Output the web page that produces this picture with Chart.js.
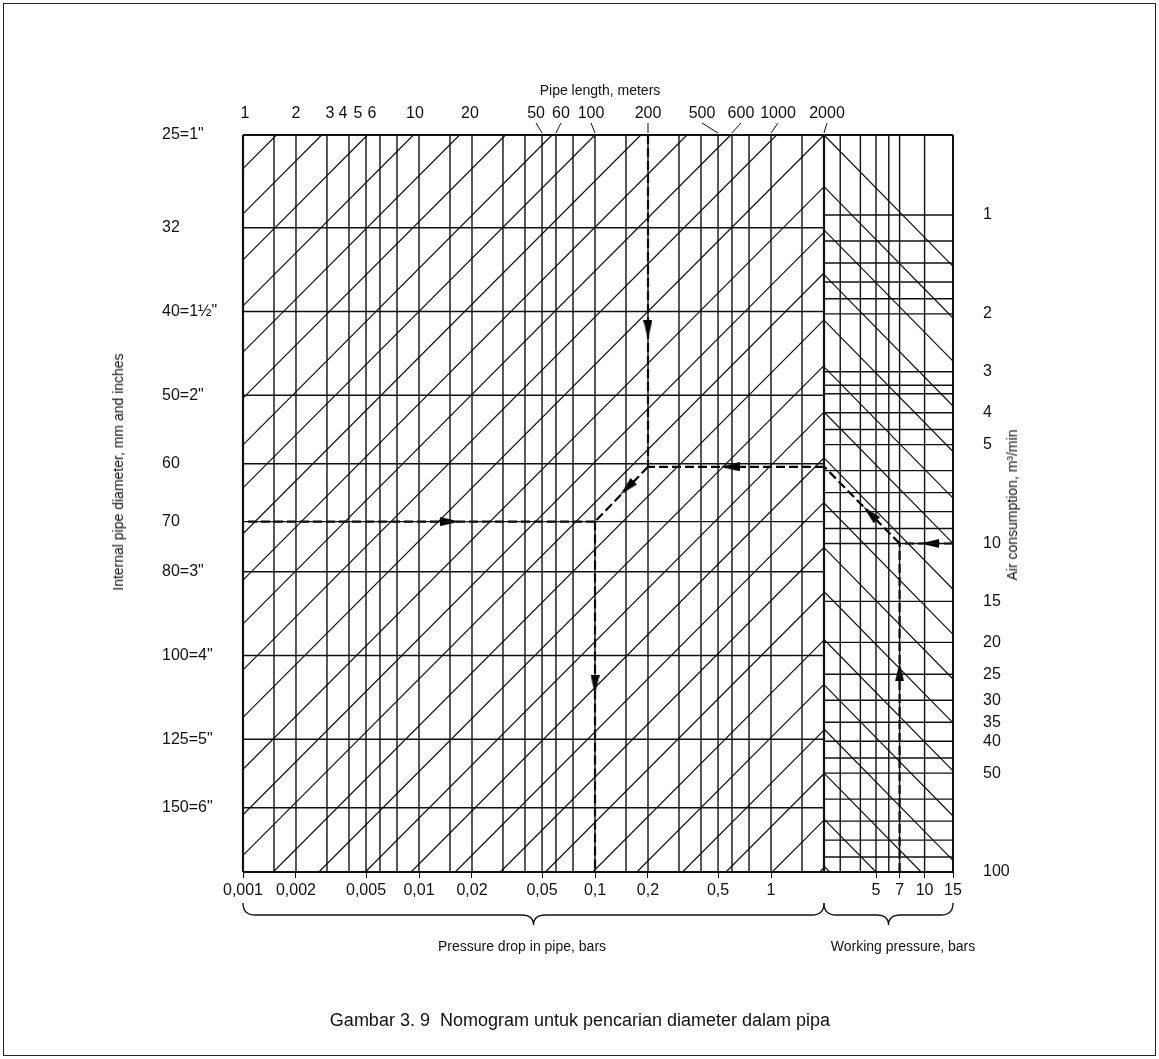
<!DOCTYPE html>
<html>
<head>
<meta charset="utf-8">
<title>Nomogram diameter pipa</title>
<script src="https://cdn.jsdelivr.net/npm/chart.js@4.4.1/dist/chart.umd.min.js"></script>
<style>
  html, body { margin: 0; padding: 0; background: #fff; }
  #wrap { position: relative; width: 1159px; height: 1059px; overflow: hidden;
          font-family: "Liberation Sans", Arial, Helvetica, sans-serif; color: #111; }
  #frame { position: absolute; left: 3px; top: 3px; width: 1151px; height: 1051px; border: 1px solid #222; }
  canvas { position: absolute; left: 0; top: 0; }
  .lbl { position: absolute; white-space: nowrap; font-size: 14px; transform: translate(-50%, -50%); }
  .rot { transform: translate(-50%, -50%) rotate(-90deg); }
  #caption { font-size: 18px; }
</style>
</head>
<body>
<div id="wrap">
  <div id="frame"></div>
  <canvas id="nomo" width="1159" height="1059"></canvas>
  <div class="lbl" style="left:600px; top:90px;">Pipe length, meters</div>
  <div class="lbl rot" style="left:118px; top:472px;">Internal pipe diameter, mm and inches</div>
  <div class="lbl rot" style="left:1012px; top:505px;">Air consumption, m³/min</div>
  <div class="lbl" style="left:522px; top:946px;">Pressure drop in pipe, bars</div>
  <div class="lbl" style="left:903px; top:946px;">Working pressure, bars</div>
  <div class="lbl" id="caption" style="left:580px; top:1020px;">Gambar 3. 9&nbsp; Nomogram untuk pencarian diameter dalam pipa</div>
</div>
<script>
// ---- values ----
// pipe length (m), vertical lines of the main panel
const lengthGrid = [1, 1.5, 2, 3, 4, 5, 6, 7.5, 10, 15, 20, 30, 40, 50, 60, 75, 100, 150, 200, 300, 400, 500, 600, 750, 1000, 1500, 2000];
const lengthTicks = [1, 2, 3, 4, 5, 6, 10, 20, 50, 60, 100, 200, 500, 600, 1000, 2000];
// pressure drop (bar) printed under the same lines
const dropTicks = [0.001, 0.002, 0.005, 0.01, 0.02, 0.05, 0.1, 0.2, 0.5, 1];
// internal diameter (mm), horizontal lines
const diameterGrid = [25, 32, 40, 50, 60, 70, 80, 100, 125, 150, 178];
const diameterTicks = [25, 32, 40, 50, 60, 70, 80, 100, 125, 150];
const diameterLabels = ['25=1"', '32', '40=1½"', '50=2"', '60', '70', '80=3"', '100=4"', '125=5"', '150=6"'];
// working pressure (bar), vertical lines of the right panel
const pressureGrid = [2.38, 3, 4, 5, 6, 7, 10, 15];
const pressureTicks = [5, 7, 10, 15];
// air consumption (m3/min), horizontal lines of the right panel
const airGrid = [0.571, 1, 1.2, 1.4, 1.6, 1.8, 2, 3, 3.3, 3.5, 4, 4.5, 5, 6, 7, 8, 9, 10, 15, 20, 25, 30, 35, 40, 45, 50, 60, 70, 80, 90, 100];
const airTicks = [1, 2, 3, 4, 5, 10, 15, 20, 25, 30, 35, 40, 50, 100];
// diagonals: where they cut the top edge (m) / the right edge (mm)
const diagTopLength = [1.55, 2.8, 5.1, 9.3, 17, 31, 57, 100, 182, 333, 590, 1075];
const diagRightDia = [25, 28.7, 32.4, 36.1, 40.9, 46.2, 52.3, 59.1, 66.5, 75, 84.6, 96, 108, 122, 137, 155, 176];
// right panel diagonals start on its left edge (m3/min)
const chevronAir = [0.571, 0.82, 1.11, 1.52, 2.09, 2.9, 3.98, 5.49, 7.53, 10.3, 14, 19.6, 26.9, 36.7, 50, 69, 96];
const DIAG_EXP = 4.9;   // L * d^4.9 = const along a main diagonal
const AIR_EXP = 0.5;    // Q / p^0.5 = const along a right diagonal

// worked example (dashed path)
const exAir = 10, exPressure = 7, exAirEdge = 5.83;
const exLength = 200, exDiaMid = 60.5, exDiameter = 70, exDropLength = 100;
const arrowMainLen = [15, 200, 585, 152, 100];
const arrowMainDia = [70, 42, 60.5, 64, 108];
const arrowMainRot = [90, 180, 270, 225, 180];
const arrowAirP = [4.6, 10.8, 7];
const arrowAirQ = [8.1, 10, 24.6];
const arrowAirRot = [315, 270, 0];

const LOG = Math.log10;
const lMin = lengthGrid[0], lMax = lengthGrid[lengthGrid.length - 1];
const dMin = diameterGrid[0], dMax = diameterGrid[diameterGrid.length - 1];
const pMin = pressureGrid[0], pMax = pressureGrid[pressureGrid.length - 1];
const qMin = airGrid[0], qMax = airGrid[airGrid.length - 1];

const INK = '#111';
const datasets = [];
function addLine(xID, yID, pts, extra) {
  datasets.push(Object.assign({
    xAxisID: xID, yAxisID: yID, showLine: true, clip: false,
    data: pts.map(p => ({ x: p[0], y: p[1] })),
    borderColor: INK, borderWidth: 1.2, pointRadius: 0
  }, extra || {}));
}

// main panel grid
lengthGrid.forEach((L, i) => {
  const edge = i === 0 || i === lengthGrid.length - 1;
  addLine('x', 'y', [[L, dMin], [L, dMax]], { borderWidth: edge ? 2.2 : 1.4 });
});
diameterGrid.forEach((d, i) => {
  const edge = i === 0 || i === diameterGrid.length - 1;
  addLine('x', 'y', [[lMin, d], [lMax, d]], { borderWidth: edge ? 2 : 1.4 });
});
function mainDiag(L0, d0) {
  const c = LOG(L0) + DIAG_EXP * LOG(d0);
  const uMax = LOG(lMax);
  const uTop = c - DIAG_EXP * LOG(dMin);
  const hi = uTop <= uMax ? [10 ** uTop, dMin] : [lMax, 10 ** ((c - uMax) / DIAG_EXP)];
  const vLeft = (c - LOG(lMin)) / DIAG_EXP;
  const lo = vLeft <= LOG(dMax) ? [lMin, 10 ** vLeft] : [10 ** (c - DIAG_EXP * LOG(dMax)), dMax];
  return [lo, hi];
}
diagTopLength.forEach(L => addLine('x', 'y', mainDiag(L, dMin), { borderWidth: 1.2 }));
diagRightDia.forEach(d => addLine('x', 'y', mainDiag(lMax, d), { borderWidth: 1.2 }));

// right panel grid
pressureGrid.forEach((p, i) => {
  const edge = i === pressureGrid.length - 1;
  if (i === 0) return; // shared with the main panel's right edge
  addLine('xp', 'yq', [[p, qMin], [p, qMax]], { borderWidth: edge ? 2 : 1.4 });
});
airGrid.forEach((q, i) => {
  const edge = i === 0 || i === airGrid.length - 1;
  addLine('xp', 'yq', [[pMin, q], [pMax, q]], { borderWidth: edge ? 2 : 1.4 });
});
function airDiag(q0) {
  const c = LOG(q0) - AIR_EXP * LOG(pMin);
  const qEnd = 10 ** (c + AIR_EXP * LOG(pMax));
  const end = qEnd <= qMax ? [pMax, qEnd] : [10 ** ((LOG(qMax) - c) / AIR_EXP), qMax];
  return [[pMin, q0], end];
}
chevronAir.forEach(q => addLine('xp', 'yq', airDiag(q), { borderWidth: 1.2 }));

// dashed worked example
const dash = { borderWidth: 2.2, borderDash: [9, 4], borderColor: '#000' };
addLine('xp', 'yq', [[exPressure, qMax], [exPressure, exAir]], dash);
addLine('xp', 'yq', [[pMax, exAir], [exPressure, exAir]], dash);
addLine('xp', 'yq', [[exPressure, exAir], [pMin, exAirEdge]], dash);
addLine('x', 'y', [[lMax, exDiaMid], [exLength, exDiaMid]], dash);
addLine('x', 'y', [[exLength, dMin], [exLength, exDiaMid]], dash);
addLine('x', 'y', [[exLength, exDiaMid], [exDropLength, exDiameter]], dash);
addLine('x', 'y', [[exDropLength, exDiameter], [lMin, exDiameter]], dash);
addLine('x', 'y', [[exDropLength, exDiameter], [exDropLength, dMax]], dash);

// arrowheads
function arrowHead() {
  const c = document.createElement('canvas');
  c.width = 9; c.height = 19;
  const g = c.getContext('2d');
  g.fillStyle = '#000';
  g.beginPath(); g.moveTo(4.5, 0); g.lineTo(9, 19); g.lineTo(0, 19); g.closePath(); g.fill();
  return c;
}
const head = arrowHead();
datasets.push({
  xAxisID: 'x', yAxisID: 'y', clip: false, pointStyle: head,
  data: arrowMainLen.map((L, i) => ({ x: L, y: arrowMainDia[i] })),
  rotation: arrowMainRot, pointRadius: 8
});
datasets.push({
  xAxisID: 'xp', yAxisID: 'yq', clip: false, pointStyle: head,
  data: arrowAirP.map((p, i) => ({ x: p, y: arrowAirQ[i] })),
  rotation: arrowAirRot, pointRadius: 8
});

const tickFont = { family: '"Liberation Sans", Arial, sans-serif', size: 16 };
// nudges of the crowded top labels (px), leader lines drawn from them
const topNudge = [2, 0, 3, -6, -8, -8, -4, -2, -6, 5, -4, 0, -16, 9, 7, 3];

const extras = {
  id: 'extras',
  afterDraw(chart) {
    const ctx = chart.ctx, xs = chart.scales.x, xp = chart.scales.xp;
    const top = chart.chartArea.top;
    ctx.save();
    ctx.fillStyle = INK; ctx.strokeStyle = INK; ctx.lineWidth = 1;
    ctx.font = '16px "Liberation Sans", Arial, sans-serif';
    ctx.textAlign = 'center'; ctx.textBaseline = 'middle';
    lengthTicks.forEach((L, i) => {
      const px = xs.getPixelForValue(L);
      const lx = px + topNudge[i];
      ctx.fillText(String(L), lx, top - 21);
      if (L >= 50) {
        ctx.beginPath(); ctx.moveTo(lx, top - 12); ctx.lineTo(px, top - 2); ctx.stroke();
      }
    });
    // curly braces under both scales
    const brace = (x0, x1) => {
      const y0 = 903, y1 = 915, y2 = 925, r = 12, xm = (x0 + x1) / 2;
      ctx.beginPath();
      ctx.moveTo(x0, y0);
      ctx.quadraticCurveTo(x0, y1, x0 + r, y1);
      ctx.lineTo(xm - r, y1);
      ctx.quadraticCurveTo(xm, y1, xm, y2);
      ctx.quadraticCurveTo(xm, y1, xm + r, y1);
      ctx.lineTo(x1 - r, y1);
      ctx.quadraticCurveTo(x1, y1, x1, y0);
      ctx.stroke();
    };
    ctx.lineWidth = 1.3;
    brace(xs.left, xs.right);
    brace(xp.left, xp.right);
    ctx.restore();
  }
};

new Chart(document.getElementById('nomo'), {
  type: 'scatter',
  data: { datasets },
  options: {
    responsive: false,
    animation: false,
    events: [],
    layout: { padding: { left: 162, right: 146, top: 135, bottom: 87 } },
    plugins: { legend: { display: false }, tooltip: { enabled: false } },
    scales: {
      x: {
        type: 'logarithmic', position: 'bottom', stack: 'bottom', stackWeight: 581,
        min: lMin, max: lMax,
        afterBuildTicks: s => { s.ticks = dropTicks.map(p => ({ value: p * 1000 })); },
        afterFit: s => { s.height = 100; },
        ticks: { autoSkip: false, maxRotation: 0, padding: 3, color: INK, font: tickFont,
                 callback: (v, i) => String(dropTicks[i]).replace('.', ',') },
        grid: { display: true, drawOnChartArea: false, tickLength: 6, color: INK },
        border: { display: false }
      },
      xp: {
        type: 'logarithmic', position: 'bottom', stack: 'bottom', stackWeight: 129,
        min: pMin, max: pMax,
        afterBuildTicks: s => { s.ticks = pressureTicks.map(p => ({ value: p })); },
        afterFit: s => { s.height = 100; },
        ticks: { autoSkip: false, maxRotation: 0, padding: 3, color: INK, font: tickFont,
                 callback: (v, i) => String(pressureTicks[i]) },
        grid: { display: true, drawOnChartArea: false, tickLength: 6, color: INK },
        border: { display: false }
      },
      y: {
        type: 'logarithmic', position: 'left', reverse: true, min: dMin, max: dMax,
        afterBuildTicks: s => { s.ticks = diameterTicks.map(d => ({ value: d })); },
        afterFit: s => { s.width = 81; },
        ticks: { autoSkip: false, crossAlign: 'far', padding: 0, color: INK, font: tickFont,
                 callback: (v, i) => diameterLabels[i] },
        grid: { display: false },
        border: { display: false }
      },
      yq: {
        type: 'logarithmic', position: 'right', reverse: true, min: qMin, max: qMax,
        afterBuildTicks: s => { s.ticks = airTicks.map(q => ({ value: q })); },
        afterFit: s => { s.width = 60; },
        ticks: { autoSkip: false, padding: 22, color: INK, font: tickFont,
                 callback: (v, i) => String(airTicks[i]) },
        grid: { display: false },
        border: { display: false }
      }
    }
  },
  plugins: [extras]
});
</script>
</body>
</html>
